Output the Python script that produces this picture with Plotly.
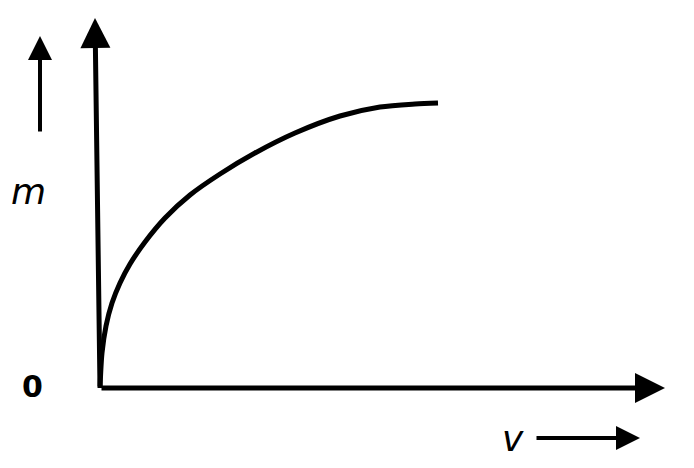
import plotly.graph_objects as go

v = [0, 2, 6, 12, 20, 30, 45, 65, 90, 120, 155, 195, 240, 280, 315, 338]
m = [0, 35, 62, 85, 105, 124, 146, 170, 193, 214, 235, 255, 272, 281, 284, 285]

fig = go.Figure()
fig.add_trace(go.Scatter(x=v, y=m, mode="lines", line=dict(color="black", width=5, shape="spline", smoothing=0.8), hoverinfo="skip"))

def arrow(x0, y0, x1, y1, w=5):
    fig.add_annotation(x=x1, y=y1, ax=x0, ay=y0, xref="x", yref="y", axref="x", ayref="y",
                       showarrow=True, arrowhead=2, arrowsize=1.2, arrowwidth=w, arrowcolor="black", text="")

arrow(0, 0, -5, 370)
arrow(0, 0, 565, 0)
arrow(-60, 255, -60, 352, 4)
arrow(435, -50, 540, -50, 4)

fig.add_annotation(x=-72, y=197, text="<i>m</i>", showarrow=False, font=dict(size=36, family="DejaVu Sans", color="black"))
fig.add_annotation(x=-68, y=2, text="<b>0</b>", showarrow=False, font=dict(size=30, family="DejaVu Sans", color="black"))
fig.add_annotation(x=413, y=-50, text="<i>v</i>", showarrow=False, font=dict(size=36, family="DejaVu Sans", color="black"))

fig.update_layout(width=694, height=468, margin=dict(l=0, r=0, t=0, b=0), showlegend=False,
                  paper_bgcolor="white", plot_bgcolor="white",
                  xaxis=dict(range=[-92, 602], visible=False),
                  yaxis=dict(range=[-88, 380], visible=False))
fig.write_html("out.html")
